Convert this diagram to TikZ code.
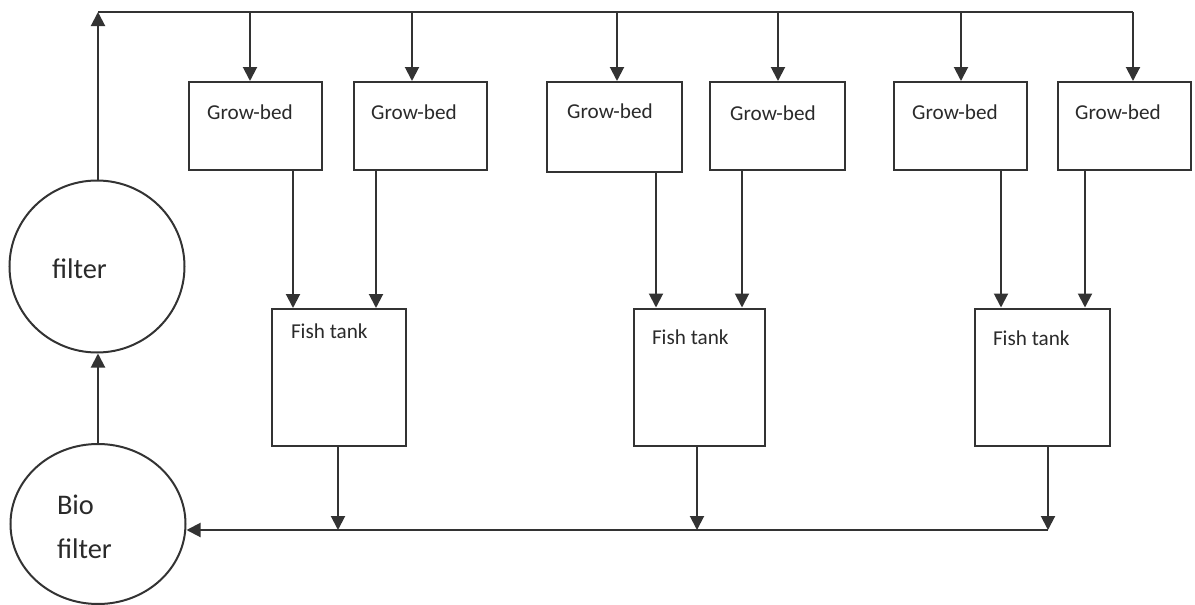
\documentclass[tikz,border=0pt]{standalone}
\usepackage{fontspec}
\setmainfont{Carlito}
\usetikzlibrary{arrows.meta,shapes.geometric}
\definecolor{ln}{HTML}{333333}
\definecolor{tx}{HTML}{2A2A2A}
\begin{document}
\begin{tikzpicture}[x=0.5pt,y=-0.5pt, line width=1pt, color=ln,
  arr/.style={-{Triangle[length=7pt,width=7pt]}},
  bed/.style={draw=ln, line width=1pt, rectangle, minimum width=66.5pt, minimum height=44pt, inner sep=0pt},
  tank/.style={draw=ln, line width=1pt, rectangle, minimum width=67pt, minimum height=68.5pt, inner sep=0pt},
  circ/.style={draw=ln, line width=1pt, ellipse, inner sep=0pt},
  lbl/.style={font=\fontsize{10.6pt}{12pt}\selectfont, text=tx, inner sep=0pt},
  big/.style={font=\fontsize{14.2pt}{22pt}\selectfont, text=tx, inner sep=0pt, align=left}]
\path[use as bounding box] (0,0) rectangle (1195,605);

% circles
\node[circ, minimum width=87.5pt, minimum height=86pt] (filter) at (97,266.5) {};
\node[circ, minimum width=87.5pt, minimum height=80pt] (bio) at (98,524) {};
\node[big, anchor=west] (tf) at (51,269) {filter};
\node[big, anchor=west] (tb) at (56,527) {Bio\\filter};

% grow-beds
\node[bed] (g1) at (255.5,126) {};
\node[bed] (g2) at (420,126) {};
\node[bed, minimum width=67.5pt, minimum height=45pt] (g3) at (614.5,127) {};
\node[bed, minimum width=67.5pt] (g4) at (777.5,126) {};
\node[bed] (g5) at (960,126) {};
\node[bed] (g6) at (1124,126) {};
\node[lbl] (tg1) at (250,112) {Grow-bed};
\node[lbl] (tg2) at (414,112) {Grow-bed};
\node[lbl] (tg3) at (610,111) {Grow-bed};
\node[lbl] (tg4) at (773,113) {Grow-bed};
\node[lbl] (tg5) at (955,112) {Grow-bed};
\node[lbl] (tg6) at (1118,112) {Grow-bed};

% fish tanks
\node[tank] (f1) at (339,377.5) {};
\node[tank, minimum width=65.5pt] (f2) at (699.5,377) {};
\node[tank, minimum width=67.5pt] (f3) at (1042.5,377) {};
\node[lbl, anchor=west] (tf1) at (290,331) {Fish tank};
\node[lbl, anchor=west] (tf2) at (651,337) {Fish tank};
\node[lbl, anchor=west] (tf3) at (992,338) {Fish tank};

% top distribution line
\coordinate (tl) at (98,12);
\coordinate (t1) at (250,12);
\coordinate (t2) at (412,12);
\coordinate (t3) at (617,12);
\coordinate (t4) at (778,12);
\coordinate (t5) at (961,12);
\coordinate (t6) at (1133,12);
\draw[arr] (filter.north -| tl) -- (tl);
\draw (tl) -- (t6);
\foreach \i in {1,...,6} {\draw[arr] (t\i) -- (t\i |- g\i.north);}

% grow-bed to fish tank
\coordinate (a1) at (293,0);
\coordinate (a2) at (376,0);
\coordinate (a3) at (656,0);
\coordinate (a4) at (742,0);
\coordinate (a5) at (1001,0);
\coordinate (a6) at (1085,0);
\draw[arr] (g1.south -| a1) -- (f1.north -| a1);
\draw[arr] (g2.south -| a2) -- (f1.north -| a2);
\draw[arr] (g3.south -| a3) -- (f2.north -| a3);
\draw[arr] (g4.south -| a4) -- (f2.north -| a4);
\draw[arr] (g5.south -| a5) -- (f3.north -| a5);
\draw[arr] (g6.south -| a6) -- (f3.north -| a6);

% return line
\coordinate (b1) at (338,530);
\coordinate (b2) at (697,530);
\coordinate (b3) at (1048,530);
\draw[arr] (f1.south -| b1) -- (b1);
\draw[arr] (f2.south -| b2) -- (b2);
\draw[arr] (f3.south -| b3) -- (b3);
\draw[arr] (b3) -- (b3 -| bio.east);

% bio filter to filter
\draw[arr] (bio.north) -- (filter.south -| bio.north);
\end{tikzpicture}
\end{document}
